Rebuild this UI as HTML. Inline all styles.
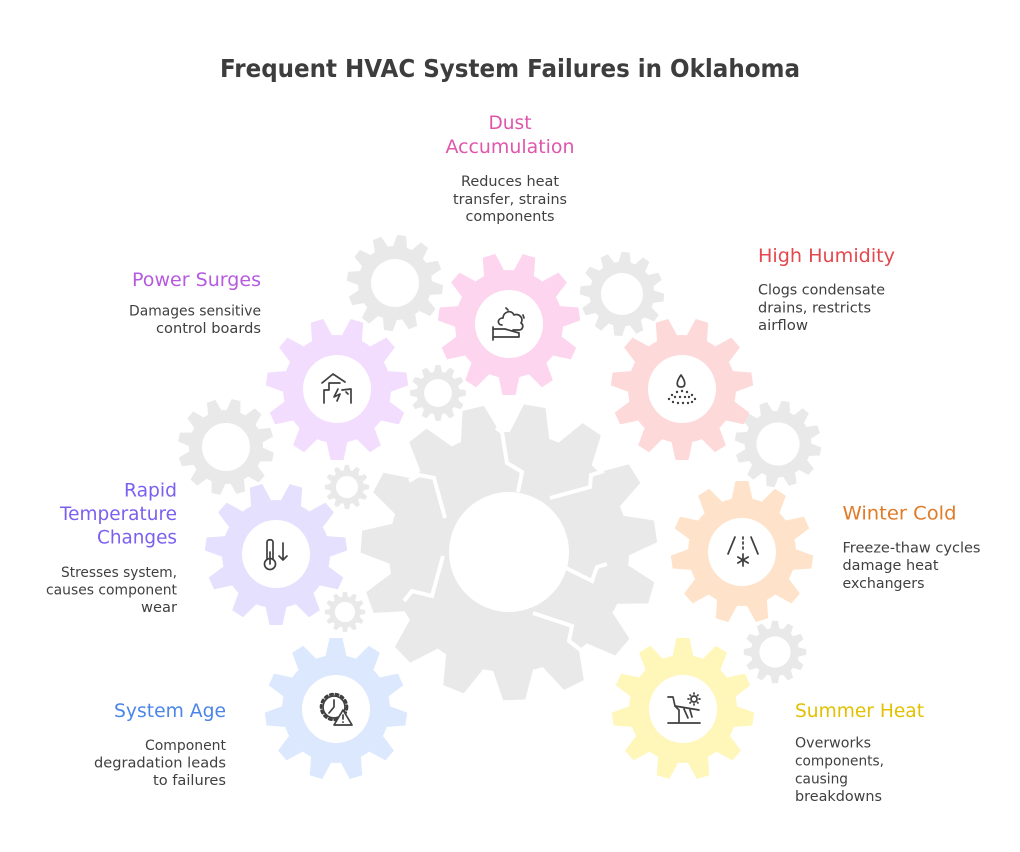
<!DOCTYPE html>
<html><head><meta charset="utf-8"><style>html,body{margin:0;padding:0;background:#fff}svg{display:block}</style></head>
<body>
<svg width="1020" height="852" viewBox="0 0 1020 852" xmlns="http://www.w3.org/2000/svg" font-family="'DejaVu Sans','Liberation Sans',sans-serif">
<defs>
  <polygon id="t11" points="-11.5,-48 -6.5,-71 6.5,-71 11.5,-48"/>
  <g id="cg">
    <circle r="54"/>
    <use href="#t11"/>
    <use href="#t11" transform="rotate(32.73)"/>
    <use href="#t11" transform="rotate(65.45)"/>
    <use href="#t11" transform="rotate(98.18)"/>
    <use href="#t11" transform="rotate(130.91)"/>
    <use href="#t11" transform="rotate(163.64)"/>
    <use href="#t11" transform="rotate(196.36)"/>
    <use href="#t11" transform="rotate(229.09)"/>
    <use href="#t11" transform="rotate(261.82)"/>
    <use href="#t11" transform="rotate(294.55)"/>
    <use href="#t11" transform="rotate(327.27)"/>
    <circle r="34" fill="#ffffff"/>
  </g>
  <polygon id="t12" points="-7.5,-34 -4.5,-48 4.5,-48 7.5,-34"/>
  <g id="gg" fill="#e9e9e9">
    <circle r="37"/>
    <use href="#t12"/>
    <use href="#t12" transform="rotate(30)"/>
    <use href="#t12" transform="rotate(60)"/>
    <use href="#t12" transform="rotate(90)"/>
    <use href="#t12" transform="rotate(120)"/>
    <use href="#t12" transform="rotate(150)"/>
    <use href="#t12" transform="rotate(180)"/>
    <use href="#t12" transform="rotate(210)"/>
    <use href="#t12" transform="rotate(240)"/>
    <use href="#t12" transform="rotate(270)"/>
    <use href="#t12" transform="rotate(300)"/>
    <use href="#t12" transform="rotate(330)"/>
    <circle r="24" fill="#ffffff"/>
  </g>
  <polygon id="tb" points="-21,-115 -11,-148 11,-148 21,-115"/>
</defs>

<rect width="1020" height="852" fill="#ffffff"/>

<!-- Big central gear -->
<g transform="translate(509,552)" fill="#e9e9e9">
  <circle r="120"/>
  <use href="#tb" transform="rotate(10)"/>
  <use href="#tb" transform="rotate(34)"/>
  <use href="#tb" transform="rotate(58)"/>
  <use href="#tb" transform="rotate(82)"/>
  <use href="#tb" transform="rotate(106)"/>
  <use href="#tb" transform="rotate(130)"/>
  <use href="#tb" transform="rotate(154)"/>
  <use href="#tb" transform="rotate(178)"/>
  <use href="#tb" transform="rotate(202)"/>
  <use href="#tb" transform="rotate(226)"/>
  <use href="#tb" transform="rotate(250)"/>
  <use href="#tb" transform="rotate(274)"/>
  <use href="#tb" transform="rotate(298)"/>
  <use href="#tb" transform="rotate(322)"/>
  <use href="#tb" transform="rotate(346)"/>
  <circle r="60" fill="#ffffff"/>
</g>
<g fill="none" stroke="#ffffff" stroke-width="4" stroke-linejoin="miter">
  <polyline points="518,492 522,472 507,463 502,432 496,428"/>
  <polyline points="550,498 590,487 591,475 604,471"/>
  <polyline points="566,568 592,581 597,567 607,564"/>
  <polyline points="533,613 572,626 569,641 582,651"/>
  <polyline points="443,556 432,596 412,591 404,601"/>
  <polyline points="445,518 434,478 419,475 409,481"/>
</g>

<!-- Gray gears -->
<use href="#gg" transform="translate(395,283) rotate(8)"/>
<use href="#gg" transform="translate(622,294) rotate(5) scale(0.875)"/>
<use href="#gg" transform="translate(438,393) scale(0.58)"/>
<use href="#gg" transform="translate(226,447) rotate(12)"/>
<use href="#gg" transform="translate(347,487) scale(0.46)"/>
<use href="#gg" transform="translate(345,612) scale(0.42)"/>
<use href="#gg" transform="translate(778,444) rotate(10) scale(0.9)"/>
<use href="#gg" transform="translate(775,652) scale(0.65)"/>

<!-- Colored gears -->
<use href="#cg" fill="#fdd5ee" transform="translate(509,324) rotate(16.36)"/>
<use href="#cg" fill="#f3ddfe" transform="translate(337,389) rotate(16.36)"/>
<use href="#cg" fill="#fed9d9" transform="translate(682,389) rotate(16.36)"/>
<use href="#cg" fill="#e5e0fd" transform="translate(276,554) rotate(16.36)"/>
<use href="#cg" fill="#fee3ca" transform="translate(742,552)"/>
<use href="#cg" fill="#dce8fe" transform="translate(336,709)"/>
<use href="#cg" fill="#fff6ba" transform="translate(683,709)"/>

<!-- Icons -->
<g fill="none" stroke="#3f3f3f" stroke-width="1.7" stroke-linecap="round" stroke-linejoin="round">
  <!-- Dust -->
  <g transform="translate(509,324)">
    <path d="M-7 1 C-12 1 -12 -6 -6 -6 C-6 -12 2 -15 5 -9 C10 -11 15 -6 12 -1 C15 1 14 6 10 6 L4 6"/>
    <path d="M-3 -16 L-1 -14 M14 -9 L15 -6"/>
    <path d="M-16 3 V16 M-16 5 H-4 L10 9 V13 H-16"/>
  </g>
  <!-- Power surges -->
  <g transform="translate(337,389)">
    <path d="M-13 14 V1 H-8 V-6 M-15 -6 L-4 -15 L8 -7 M-8 -6 H3"/>
    <path d="M1 0 L-3 8 L3 5 L0 12"/>
    <path d="M5 1 L14 0 V14 M9 3 L11 5"/>
  </g>
  <!-- Humidity -->
  <g transform="translate(682,389)">
    <path d="M-1 -14 C-6 -7 -6 -2 -1 -2 C4 -2 4 -7 -1 -14 Z"/>
  </g>
  <!-- Rapid temperature -->
  <g transform="translate(276,554)">
    <path d="M-9 5 V-12 C-9 -15 -3 -15 -3 -12 V5"/>
    <circle cx="-6" cy="10" r="5.5"/>
    <path d="M-6 10 V-2"/>
    <path d="M7 -11 V6 M3 2 L7 6 L11 2"/>
  </g>
  <!-- Winter cold -->
  <g transform="translate(742,552)">
    <path d="M-7 -15 L-14 2 M9 -15 L16 2"/>
    <path d="M1 -15 V-13 M1 -10 V-8 M1 -5 V-3"/>
    <path d="M1 2 V14 M-4.2 5 L6.2 11 M-4.2 11 L6.2 5"/>
  </g>
  <!-- System age -->
  <g transform="translate(336,709)">
    <circle cx="-2" cy="-2" r="11"/>
    <circle cx="-2" cy="-2" r="13" stroke-width="2.6" stroke-dasharray="2.5 3.2"/>
    <path d="M-2 -9 V-2 L-7 4"/>
    <path d="M7 1 L16 16 H-2 Z" fill="#ffffff"/>
    <path d="M7 6 V10 M7 13 V13.3"/>
  </g>
  <!-- Summer heat -->
  <g transform="translate(683,709)">
    <path d="M-15 -12 H-10 L-8 -3 L-4 1 V13"/>
    <path d="M-8 -3 L16 1 M1 0 L5 9 M7 1 L9 8"/>
    <path d="M-15 14 H17"/>
    <circle cx="11" cy="-10" r="3"/>
    <path d="M11 -16 V-15 M11 -5 V-4 M5 -10 H6 M16 -10 H17 M7 -14 L7.6 -13.4 M15 -14 L14.4 -13.4 M7 -6 L7.6 -6.6 M15 -6 L14.4 -6.6"/>
  </g>
</g>
<!-- Humidity dots -->
<g fill="#3f3f3f" transform="translate(682,389)">
  <circle cx="-5" cy="3" r="1.2"/><circle cx="0" cy="2" r="1.2"/><circle cx="5" cy="3" r="1.2"/>
  <circle cx="-10" cy="6" r="1.2"/><circle cx="10" cy="6" r="1.2"/>
  <circle cx="-7" cy="8" r="1.2"/><circle cx="-2" cy="8" r="1.2"/><circle cx="3" cy="8" r="1.2"/><circle cx="7" cy="8" r="1.2"/>
  <circle cx="-13" cy="10" r="1.2"/><circle cx="13" cy="10" r="1.2"/>
  <circle cx="-9" cy="13" r="1.2"/><circle cx="-4" cy="14" r="1.2"/><circle cx="1" cy="14" r="1.2"/><circle cx="6" cy="14" r="1.2"/><circle cx="10" cy="13" r="1.2"/>
</g>

<!-- Title -->
<text x="510" y="77" text-anchor="middle" font-size="25" font-weight="bold" fill="#3d3d3d" textLength="580" lengthAdjust="spacingAndGlyphs">Frequent HVAC System Failures in Oklahoma</text>

<!-- Dust Accumulation -->
<g font-size="19" fill="#e056a9" text-anchor="middle">
  <text x="510" y="129" textLength="43" lengthAdjust="spacingAndGlyphs">Dust</text>
  <text x="510" y="153" textLength="129" lengthAdjust="spacingAndGlyphs">Accumulation</text>
</g>
<g font-size="14" fill="#404040" text-anchor="middle">
  <text x="510" y="186" textLength="98" lengthAdjust="spacingAndGlyphs">Reduces heat</text>
  <text x="510" y="204" textLength="114" lengthAdjust="spacingAndGlyphs">transfer, strains</text>
  <text x="510" y="221" textLength="89" lengthAdjust="spacingAndGlyphs">components</text>
</g>

<!-- Power Surges -->
<text x="261" y="286" text-anchor="end" font-size="19" fill="#b65ae0" textLength="129" lengthAdjust="spacingAndGlyphs">Power Surges</text>
<g font-size="14" fill="#404040" text-anchor="end">
  <text x="261" y="315.5" textLength="132" lengthAdjust="spacingAndGlyphs">Damages sensitive</text>
  <text x="261" y="333" textLength="105" lengthAdjust="spacingAndGlyphs">control boards</text>
</g>

<!-- High Humidity -->
<text x="758" y="262" font-size="19" fill="#e4484e" textLength="137" lengthAdjust="spacingAndGlyphs">High Humidity</text>
<g font-size="14" fill="#404040">
  <text x="758" y="294.5" textLength="127" lengthAdjust="spacingAndGlyphs">Clogs condensate</text>
  <text x="758" y="312.5" textLength="113" lengthAdjust="spacingAndGlyphs">drains, restricts</text>
  <text x="758" y="330" textLength="50" lengthAdjust="spacingAndGlyphs">airflow</text>
</g>

<!-- Rapid Temperature Changes -->
<g font-size="19" fill="#7b60ef" text-anchor="end">
  <text x="177" y="496.5" textLength="53" lengthAdjust="spacingAndGlyphs">Rapid</text>
  <text x="177" y="520" textLength="117" lengthAdjust="spacingAndGlyphs">Temperature</text>
  <text x="177" y="543.5" textLength="80" lengthAdjust="spacingAndGlyphs">Changes</text>
</g>
<g font-size="14" fill="#404040" text-anchor="end">
  <text x="177" y="577" textLength="116" lengthAdjust="spacingAndGlyphs">Stresses system,</text>
  <text x="177" y="594.5" textLength="131" lengthAdjust="spacingAndGlyphs">causes component</text>
  <text x="177" y="612" textLength="36" lengthAdjust="spacingAndGlyphs">wear</text>
</g>

<!-- Winter Cold -->
<text x="842.5" y="519.5" font-size="19" fill="#e07b27" textLength="114" lengthAdjust="spacingAndGlyphs">Winter Cold</text>
<g font-size="14" fill="#404040">
  <text x="842.5" y="552.5" textLength="138" lengthAdjust="spacingAndGlyphs">Freeze-thaw cycles</text>
  <text x="842.5" y="570" textLength="96" lengthAdjust="spacingAndGlyphs">damage heat</text>
  <text x="842.5" y="588" textLength="82" lengthAdjust="spacingAndGlyphs">exchangers</text>
</g>

<!-- System Age -->
<text x="226" y="717" text-anchor="end" font-size="19" fill="#4c85ea" textLength="112" lengthAdjust="spacingAndGlyphs">System Age</text>
<g font-size="14" fill="#404040" text-anchor="end">
  <text x="226" y="750" textLength="81" lengthAdjust="spacingAndGlyphs">Component</text>
  <text x="226" y="767.5" textLength="132" lengthAdjust="spacingAndGlyphs">degradation leads</text>
  <text x="226" y="785" textLength="73" lengthAdjust="spacingAndGlyphs">to failures</text>
</g>

<!-- Summer Heat -->
<text x="795" y="717" font-size="19" fill="#e3c000" textLength="129" lengthAdjust="spacingAndGlyphs">Summer Heat</text>
<g font-size="14" fill="#404040">
  <text x="795" y="747.5" textLength="76" lengthAdjust="spacingAndGlyphs">Overworks</text>
  <text x="795" y="765.5" textLength="89" lengthAdjust="spacingAndGlyphs">components,</text>
  <text x="795" y="783.5" textLength="53" lengthAdjust="spacingAndGlyphs">causing</text>
  <text x="795" y="801" textLength="87" lengthAdjust="spacingAndGlyphs">breakdowns</text>
</g>
</svg>
</body></html>
